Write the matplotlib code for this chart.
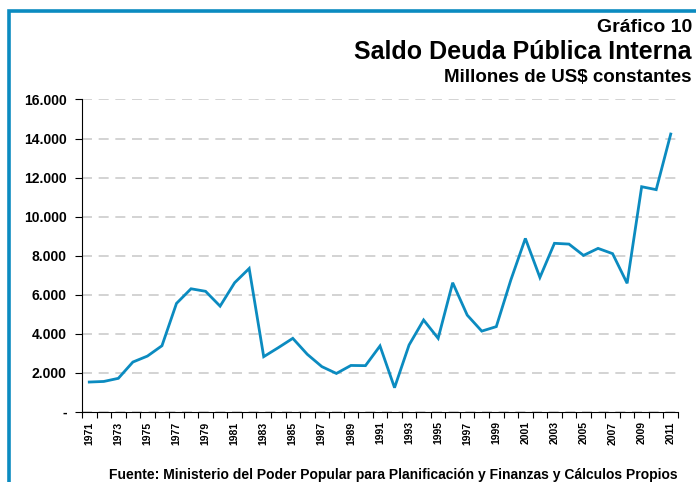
import numpy as np
import matplotlib.pyplot as plt
from matplotlib.patches import Rectangle

plt.rcParams['font.family'] = ['Liberation Sans', 'DejaVu Sans']
plt.rcParams['font.weight'] = 'bold'

# Saldo deuda pública interna, millones de US$ constantes
years = list(range(1971, 2012))
saldo = [1520, 1550, 1710, 2545, 2850, 3380, 5550, 6300, 6170, 5410,
         6610, 7340, 2820, 3280, 3760, 2940, 2310, 1960, 2370, 2360,
         3370, 1230, 3420, 4700, 3760, 6610, 4950, 4130, 4360, 6750,
         8880, 6880, 8630, 8590, 8010, 8370, 8100, 6580, 11530, 11380,
         14230]
yticks = list(range(0, 16001, 2000))

blue = '#0b8bc0'

fig = plt.figure(figsize=(6.96, 4.82), dpi=100)
ax = fig.add_axes([82 / 696, 1 - 411.7 / 482, (678 - 82) / 696, (411.7 - 99.5) / 482])

x = np.arange(len(years))
ax.plot(x, saldo, color=blue, lw=2.0, solid_joinstyle='miter', zorder=3)

ax.set_xlim(-0.5, len(years) - 0.5)
ax.set_ylim(0, 16000)

# y axis
ax.set_yticks(yticks)
ax.set_yticklabels(['-' if v == 0 else f"{v:,}".replace(",", ".") for v in yticks],
                   fontsize=10, fontweight='bold')
ax.tick_params(axis='y', length=5, width=0.8, pad=6)
ax.yaxis.grid(True, color='#cccccc', lw=1.2, ls=(0, (6, 4)))
ax.set_axisbelow(True)

# x axis: ticks at category boundaries, labels every other year
ax.set_xticks(x[::2])
ax.set_xticklabels([str(y) for y in years[::2]], rotation=90,
                   fontsize=7.5, fontweight='bold')
ax.set_xticks(np.arange(-0.5, len(years)), minor=True)
ax.tick_params(axis='x', which='major', length=0, pad=7)
ax.tick_params(axis='x', which='minor', length=4, width=0.8)

for s in ['top', 'right']:
    ax.spines[s].set_visible(False)
ax.spines['left'].set_linewidth(0.8)
ax.spines['bottom'].set_linewidth(0.8)

# titles
fig.text(692 / 696, 1 - 27 / 482, 'Gráfico 10', ha='right', va='center',
         fontsize=14, fontweight='bold')
fig.text(692 / 696, 1 - 52 / 482, 'Saldo Deuda Pública Interna', ha='right',
         va='center', fontsize=18, fontweight='bold')
fig.text(692 / 696, 1 - 78 / 482, 'Millones de US$ constantes', ha='right',
         va='center', fontsize=13.5, fontweight='bold')
fig.text(393 / 696, 1 - 475 / 482,
         'Fuente: Ministerio del Poder Popular para Planificación y Finanzas y Cálculos Propios',
         ha='center', va='center', fontsize=10, fontweight='bold')

# blue frame, running past right and bottom edges
fig.patches.append(Rectangle((8.5 / 696, -0.2), 1.2, 1.2 - 11 / 482,
                             transform=fig.transFigure, fill=False,
                             edgecolor=blue, lw=2.6, zorder=0))

fig.savefig('out.png', dpi=100)
